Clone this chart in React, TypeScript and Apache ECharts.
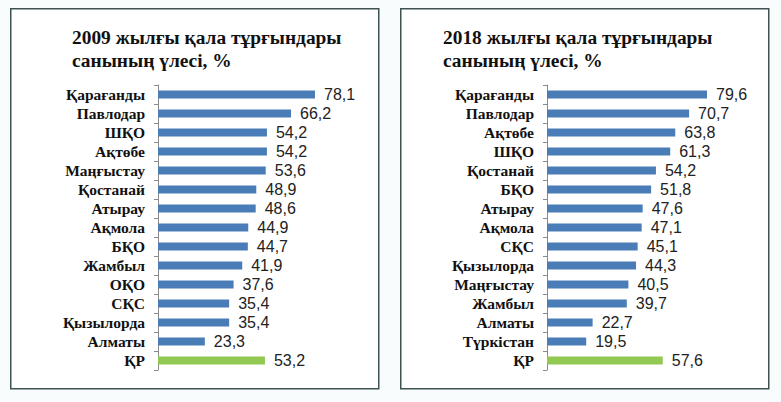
import React, { useEffect, useRef } from "react";
import * as echarts from "echarts";

const regions2009 = ["Қарағанды", "Павлодар", "ШҚО", "Ақтөбе", "Маңғыстау", "Қостанай", "Атырау", "Ақмола", "БҚО", "Жамбыл", "ОҚО", "СҚС", "Қызылорда", "Алматы", "ҚР"];
const values2009 = [78.1, 66.2, 54.2, 54.2, 53.6, 48.9, 48.6, 44.9, 44.7, 41.9, 37.6, 35.4, 35.4, 23.3, 53.2];
const regions2018 = ["Қарағанды", "Павлодар", "Ақтөбе", "ШҚО", "Қостанай", "БҚО", "Атырау", "Ақмола", "СҚС", "Қызылорда", "Маңғыстау", "Жамбыл", "Алматы", "Түркістан", "ҚР"];
const values2018 = [79.6, 70.7, 63.8, 61.3, 54.2, 51.8, 47.6, 47.1, 45.1, 44.3, 40.5, 39.7, 22.7, 19.5, 57.6];
const titles = [
  ["2009 жылғы қала тұрғындары", "санының үлесі, %"],
  ["2018 жылғы қала тұрғындары", "санының үлесі, %"],
];
const totalName = "ҚР";

const BLUE = "#4a7db8";
const GREEN = "#92c953";
const SERIF = "Liberation Serif, DejaVu Serif, serif";
const SANS = "Liberation Sans";

export default function App() {
  const ref = useRef<HTMLDivElement>(null);
  useEffect(() => {
    document.body.style.margin = "0";
    const chart = echarts.init(ref.current!, undefined, { renderer: "svg" });
    const panels = [
      { cats: regions2009, vals: values2009, left: 158, bx: 10, tx: 72 },
      { cats: regions2018, vals: values2018, left: 547, bx: 400, tx: 443 },
    ];
    const grids = panels.map((p) => ({ left: p.left, top: 85, width: 201, height: 285, containLabel: false }));
    const xAxes = panels.map((_, i) => ({
      type: "value", gridIndex: i, min: 0, max: 100, show: false,
    }));
    const yAxes = panels.map((p, i) => ({
      type: "category", gridIndex: i, data: p.cats, inverse: true,
      axisLine: { show: true, lineStyle: { color: "#8a8a8a", width: 1 } },
      axisTick: { show: true, length: 4, lineStyle: { color: "#8a8a8a" } },
      axisLabel: { interval: 0, fontFamily: SERIF, fontWeight: "bold", fontSize: 15.5, color: "#111", margin: 13 },
      splitLine: { show: false },
    }));
    const series = panels.map((p, i) => ({
      type: "bar", xAxisIndex: i, yAxisIndex: i, data: p.vals, barWidth: 8,
      itemStyle: { color: (params: any) => (params.name === totalName ? GREEN : BLUE) },
      label: {
        show: true, position: "right", distance: 9, fontFamily: SANS, fontSize: 16, color: "#222",
        formatter: (params: any) => String(params.value).replace(".", ","),
      },
    }));
    const graphic: any[] = [];
    panels.forEach((p, i) => {
      graphic.push({
        type: "rect", left: p.bx, top: 8, z: -1,
        shape: { width: 368, height: 380 },
        style: { fill: "#ffffff", stroke: "#3e5252", lineWidth: 1.5 },
      });
      titles[i].forEach((line, j) => {
        graphic.push({
          type: "text", x: p.tx, y: 37 + j * 23,
          style: {
            text: line, fontFamily: SERIF, fontWeight: "bold", fontSize: 19.4, fill: "#111",
            verticalAlign: "middle", align: "left",
          },
        });
      });
    });
    chart.setOption({
      animation: false,
      backgroundColor: "#f9fcfc",
      grid: grids,
      xAxis: xAxes,
      yAxis: yAxes,
      series,
      graphic,
    });
    return () => chart.dispose();
  }, []);
  return <div ref={ref} style={{ width: 781, height: 402 }} />;
}
